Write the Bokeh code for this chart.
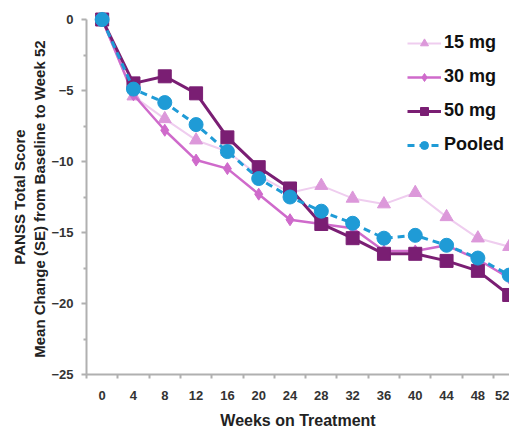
from bokeh.plotting import figure
from bokeh.models import Range1d, FixedTicker, Legend, LegendItem
from bokeh.embed import file_html
from bokeh.resources import INLINE

weeks = ["0", "4", "8", "12", "16", "20", "24", "28", "32", "36", "40", "44", "48", "52"]
mg15 = [0, -5.4, -7.0, -8.5, -9.3, -11.0, -12.2, -11.7, -12.6, -13.0, -12.2, -13.9, -15.4, -16.0]
mg30 = [0, -5.3, -7.8, -9.9, -10.5, -12.3, -14.1, -14.4, -14.7, -16.3, -16.3, -15.9, -16.9, -18.2]
mg50 = [0, -4.5, -4.0, -5.2, -8.3, -10.4, -11.9, -14.4, -15.4, -16.5, -16.5, -17.0, -17.7, -19.4]
pooled = [0, -4.9, -5.85, -7.4, -9.3, -11.2, -12.5, -13.5, -14.35, -15.4, -15.2, -15.9, -16.8, -18.0]
y_ticks = [0, -5, -10, -15, -20, -25]

xs = list(range(len(weeks)))

p = figure(width=509, height=426, output_backend="svg", toolbar_location=None,
           x_range=Range1d(-0.5, 13.01), y_range=Range1d(-25, 0),
           frame_width=423, frame_height=355,
           min_border_left=86, min_border_top=19, min_border_right=0, min_border_bottom=52)
p.outline_line_color = None
p.grid.grid_line_color = None
p.background_fill_color = "white"

axis_col = "#b0b0b0"
lab_col = "#333333"

# x axis
p.xaxis.ticker = FixedTicker(ticks=xs, minor_ticks=[i - 0.5 for i in range(len(weeks) + 1)])
p.xaxis.major_label_overrides = {i: w for i, w in enumerate(weeks)}
p.xaxis.major_tick_line_color = None
p.xaxis.major_tick_out = 0
p.xaxis.major_tick_in = 0
p.xaxis.minor_tick_line_color = axis_col
p.xaxis.minor_tick_line_width = 2
p.xaxis.minor_tick_out = 4
p.xaxis.minor_tick_in = 0
p.xaxis.major_label_standoff = 12
p.xaxis.axis_label = "Weeks on Treatment"
p.xaxis.axis_label_standoff = 9

# y axis
p.yaxis.ticker = FixedTicker(ticks=y_ticks, minor_ticks=[-2.5, -7.5, -12.5, -17.5, -22.5])
p.yaxis.major_tick_line_color = axis_col
p.yaxis.major_tick_line_width = 2
p.yaxis.major_tick_out = 5
p.yaxis.major_tick_in = 0
p.yaxis.minor_tick_line_color = axis_col
p.yaxis.minor_tick_line_width = 2
p.yaxis.minor_tick_out = 3
p.yaxis.minor_tick_in = 0
p.yaxis.major_label_standoff = 8
p.yaxis.axis_label = "PANSS Total Score\nMean  Change (SE) from Baseline to Week 52"
p.yaxis.axis_label_standoff = 0

for ax in (p.xaxis, p.yaxis):
    ax.axis_line_color = axis_col
    ax.axis_line_width = 2
    ax.major_label_text_font = "Liberation Sans"
    ax.major_label_text_font_style = "bold"
    ax.major_label_text_font_size = "13px"
    ax.major_label_text_color = lab_col
    ax.axis_label_text_font = "Liberation Sans"
    ax.axis_label_text_font_style = "bold"
    ax.axis_label_text_color = "#222222"
p.xaxis.axis_label_text_font_size = "16px"
p.yaxis.axis_label_text_font_size = "15px"

c15, c15m = "#efcdef", "#dc98da"
c30 = "#cf6acb"
c50 = "#7a1e73"
cp = "#1f9bd6"

l15 = p.line(xs, mg15, line_color=c15, line_width=2, level="overlay")
s15 = p.scatter(xs, mg15, marker="triangle", size=13, fill_color=c15m, line_color=c15m, level="overlay")
l30 = p.line(xs, mg30, line_color=c30, line_width=2.5, level="overlay")
s30 = p.scatter(xs, mg30, marker="diamond", size=12, fill_color=c30, line_color=c30, level="overlay")
l50 = p.line(xs, mg50, line_color=c50, line_width=3, level="overlay")
s50 = p.scatter(xs, mg50, marker="square", size=13, fill_color=c50, line_color=c50, level="overlay")
lp = p.line(xs, pooled, line_color=cp, line_width=3, line_dash="7 5", level="overlay")
sp = p.scatter(xs, pooled, marker="circle", size=14, fill_color=cp, line_color=cp, level="overlay")

legend = Legend(items=[
    LegendItem(label="15 mg", renderers=[l15, s15]),
    LegendItem(label="30 mg", renderers=[l30, s30]),
    LegendItem(label="50 mg", renderers=[l50, s50]),
    LegendItem(label="Pooled", renderers=[lp, sp]),
], location=(321, 219))
legend.border_line_color = None
legend.background_fill_alpha = 0
legend.padding = 4
legend.margin = 0
legend.spacing = 13
legend.glyph_width = 34
legend.glyph_height = 20
legend.label_standoff = 3
legend.label_text_font = "Liberation Sans"
legend.label_text_font_style = "bold"
legend.label_text_font_size = "18px"
legend.label_text_color = "#111111"
p.add_layout(legend)

open("out.html", "w").write(file_html(p, INLINE))
